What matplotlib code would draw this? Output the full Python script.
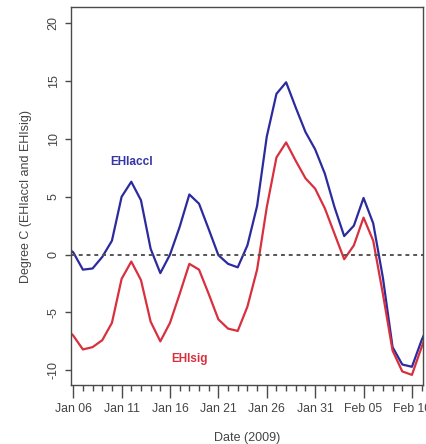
import matplotlib
matplotlib.use("Agg")
import matplotlib.pyplot as plt
import matplotlib.dates as mdates
import pandas as pd

plt.rcParams['font.family'] = ['Liberation Sans', 'DejaVu Sans']
plt.rcParams['axes.unicode_minus'] = False

# daily values, Jan 05 .. Feb 12 2009 (ends clipped by the axis limits)
dates = pd.date_range('2009-01-05', '2009-02-12', freq='D')
ehi_accl = [0.8, 0.2, -1.3, -1.2, -0.2, 1.2, 5.0, 6.3, 4.7, 0.5, -1.6, 0.0,
            2.4, 5.2, 4.4, 2.2, -0.05, -0.8, -1.1, 0.8, 4.2, 10.2, 13.9, 14.9,
            12.7, 10.6, 9.1, 7.0, 4.1, 1.6, 2.5, 4.9, 2.7, -2.0, -8.0, -9.5,
            -9.7, -7.4, -5.5]
ehi_sig = [-6.2, -7.0, -8.2, -8.0, -7.4, -5.9, -2.1, -0.6, -2.2, -5.8, -7.5,
           -5.9, -3.4, -0.8, -1.3, -3.4, -5.6, -6.4, -6.6, -4.5, -1.3, 4.1,
           8.4, 9.7, 8.1, 6.6, 5.7, 4.0, 1.8, -0.4, 0.8, 3.2, 1.2, -3.4, -8.3,
           -10.1, -10.4, -8.0, -5.8]
tick_dates = pd.date_range('2009-01-06', '2009-02-10', freq='5D')

blue = '#2b2b9e'
red = '#d8303e'
grey = '#4a4a4a'

fig = plt.figure(figsize=(4.27, 4.44), dpi=100)
ax = fig.add_axes([0.166, 0.133, 0.825, 0.851])

ax.plot(dates, ehi_accl, color=blue, lw=1.6)
ax.plot(dates, ehi_sig, color=red, lw=1.6)
ax.axhline(0, color='#555555', lw=1.4, ls=(0, (2, 2)))

ax.text(pd.Timestamp('2009-01-12'), 8.0, 'EHIaccl', color='#3535a8',
        fontsize=8.5, fontweight='bold', ha='center', va='center')
ax.text(pd.Timestamp('2009-01-18'), -9.05, 'EHIsig', color=red,
        fontsize=8.5, fontweight='bold', ha='center', va='center')

x0 = pd.Timestamp('2009-01-06')
ax.set_xlim(x0 - pd.Timedelta(hours=5.8), x0 + pd.Timedelta(days=36.16))
ax.set_ylim(-11.27, 21.4)

ax.set_xticks(tick_dates)
ax.xaxis.set_major_formatter(mdates.DateFormatter('%b %d'))
ax.xaxis.set_minor_locator(mdates.DayLocator())
ax.set_yticks([-10, -5, 0, 5, 10, 15, 20])

ax.tick_params(axis='x', which='major', length=9.5, width=1, color=grey,
               labelsize=8.8, labelcolor='#444444', pad=3.5)
ax.tick_params(axis='x', which='minor', length=4.5, width=1, color=grey)
ax.tick_params(axis='y', length=4, width=1, color=grey,
               labelsize=9, labelcolor='#444444', pad=4)
for lab in ax.get_yticklabels():
    lab.set_rotation(90)
    lab.set_va('center')

for s in ax.spines.values():
    s.set_color(grey)
    s.set_linewidth(1)

ax.set_ylabel('Degree C (EHIaccl and EHIsig)', fontsize=9, color='#444444')
ax.set_xlabel('Date (2009)', fontsize=9, color='#444444')
ax.yaxis.set_label_coords(-0.111, 0.5)
ax.xaxis.set_label_coords(0.5, -0.124)

fig.savefig('out.png', dpi=100)
